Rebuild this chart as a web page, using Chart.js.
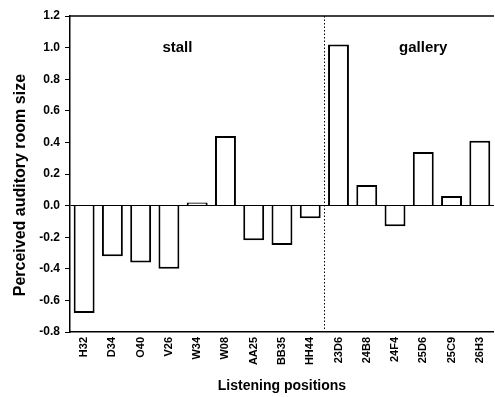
<!DOCTYPE html>
<html>
<head>
<meta charset="utf-8">
<script src="https://cdn.jsdelivr.net/npm/chart.js@4"></script>
<style>
  body { margin: 0; overflow: hidden; background: #fff; }
  #wrap { width: 498px; height: 397px; }
</style>
</head>
<body>
<div id="wrap"><canvas id="room_size_chart"></canvas></div>
<script>
const positions = [
  "H32", "D34", "O40", "V26", "W34", "W08", "AA25", "BB35", "HH44",
  "23D6", "24B8", "24F4", "25D6", "25C9", "26H3",
];
const roomSize = [
  -0.68, -0.32, -0.36, -0.40, 0.02, 0.44, -0.22, -0.25, -0.08,
  1.02, 0.13, -0.13, 0.34, 0.06, 0.41,
];
const regionNames = ["stall", "gallery"];
const regionCenters = [3.3, 12];
const regionLabelY = 1.0;
const regionSplit = 8.5;

const fontFamily = "'Liberation Sans', Arial, sans-serif";

const decorations = {
  id: "decorations",
  afterDatasetsDraw(chart) {
    const { ctx, chartArea, scales } = chart;
    const x = scales.x;
    const y = scales.y;
    ctx.save();
    // frame top line
    ctx.strokeStyle = "#000";
    ctx.lineWidth = 1.5;
    ctx.beginPath();
    ctx.moveTo(chartArea.left, chartArea.top);
    ctx.lineTo(chartArea.right, chartArea.top);
    ctx.stroke();
    // dotted separator between stall and gallery
    const sx = Math.round(x.getPixelForValue(regionSplit)) + 0.5;
    ctx.lineWidth = 1;
    ctx.setLineDash([1.5, 2]);
    ctx.beginPath();
    ctx.moveTo(sx, chartArea.top);
    ctx.lineTo(sx, chartArea.bottom);
    ctx.stroke();
    ctx.setLineDash([]);
    // region names
    ctx.fillStyle = "#000";
    ctx.font = "bold 15px " + fontFamily;
    ctx.textAlign = "center";
    ctx.textBaseline = "middle";
    regionNames.forEach((name, i) => {
      ctx.fillText(name, x.getPixelForValue(regionCenters[i]), y.getPixelForValue(regionLabelY));
    });
    ctx.restore();
  },
};

const config = {
  type: "bar",
  data: {
    labels: positions,
    datasets: [
      {
        label: "Perceived auditory room size",
        data: roomSize,
        backgroundColor: "#fff",
        borderColor: "#000",
        borderWidth: 2,
        barPercentage: 0.74,
        categoryPercentage: 1,
      },
    ],
  },
  options: {
    responsive: true,
    maintainAspectRatio: false,
    animation: false,
    layout: { padding: { top: 16, right: 0, left: 0, bottom: 0 } },
    plugins: {
      legend: { display: false },
      tooltip: { enabled: false },
    },
    scales: {
      x: {
        grid: { display: false, drawTicks: false },
        border: { color: "#000", width: 1.5 },
        ticks: {
          color: "#000",
          font: { family: fontFamily, size: 11, weight: "bold" },
          minRotation: 90,
          maxRotation: 90,
          padding: 5,
          autoSkip: false,
        },
        title: {
          display: true,
          text: "Listening positions",
          color: "#000",
          font: { family: fontFamily, size: 14, weight: "bold" },
          padding: { top: 0, bottom: 2 },
        },
        afterFit(scale) {
          scale.height = 65;
        },
      },
      y: {
        min: -0.8,
        max: 1.2,
        border: { color: "#000", width: 1.5 },
        grid: {
          drawOnChartArea: true,
          color: (c) => (c.tick && Math.abs(c.tick.value) < 1e-9 ? "#000" : "rgba(0,0,0,0)"),
          tickColor: "#000",
          tickLength: 5,
          lineWidth: 1,
        },
        ticks: {
          stepSize: 0.1,
          color: "#000",
          padding: 5,
          font: { family: fontFamily, size: 12, weight: "bold" },
          callback: (v) => {
            const k = Math.round(v * 10);
            return k % 2 === 0 ? (k / 10).toFixed(1) : "";
          },
        },
        title: {
          display: true,
          text: "Perceived auditory room size     ",
          color: "#000",
          font: { family: fontFamily, size: 16, weight: "bold" },
          padding: { top: 11, bottom: 0 },
        },
        afterFit(scale) {
          scale.width = 70;
        },
      },
    },
  },
  plugins: [decorations],
};

new Chart(document.getElementById("room_size_chart"), config);
</script>
</body>
</html>
